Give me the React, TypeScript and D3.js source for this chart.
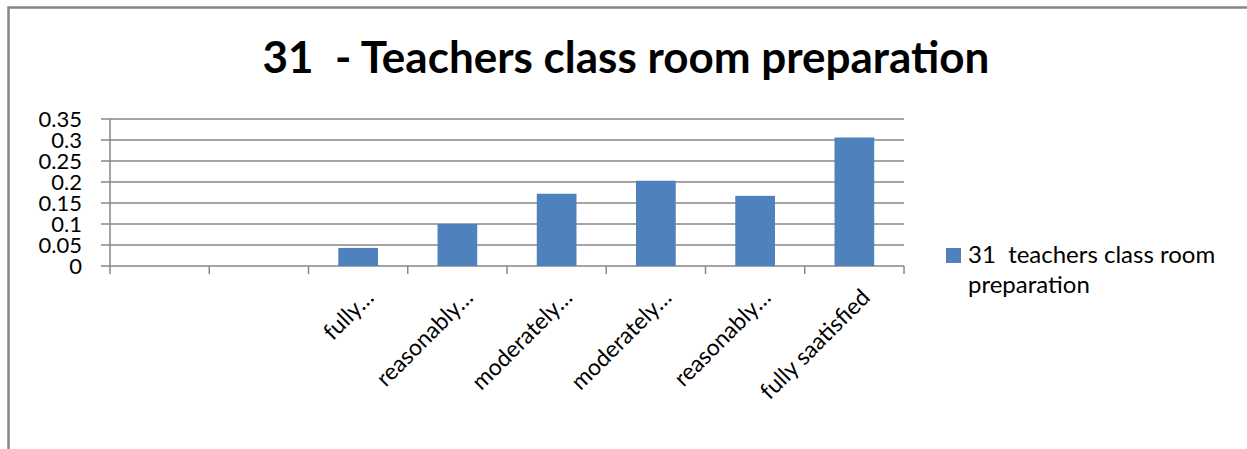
import { scaleBand, scaleLinear } from 'd3'

const categories = ['', '', 'fully…', 'reasonably…', 'moderately…', 'moderately…', 'reasonably…', 'fully saatisfied']
const values: (number | null)[] = [null, null, 0.043, 0.1, 0.172, 0.203, 0.167, 0.306]
const yTicks = [0, 0.05, 0.1, 0.15, 0.2, 0.25, 0.3, 0.35]
const tickLabels = ['0', '0.05', '0.1', '0.15', '0.2', '0.25', '0.3', '0.35']
const title = '31  - Teachers class room preparation'
const seriesName = ['31  teachers class room', 'preparation']

const width = 1247
const height = 449
const left = 110
const right = 904
const top = 119
const bottom = 266
const font = 'Lato, Calibri, sans-serif'
const gridColor = '#878787'
const barColor = '#4f81bd'

const x = scaleBand<number>()
  .domain(categories.map((_, i) => i))
  .range([left, right])
  .paddingInner(0)
  .paddingOuter(0)

const y = scaleLinear().domain([0, 0.35]).range([bottom, top])

function App() {
  const bw = x.bandwidth()
  const barW = bw / 2.5

  return (
    <svg width={width} height={height} style={{ position: 'absolute', left: 0, top: 0 }}>
      <rect width={width} height={height} fill="white" />
      {/* chart border */}
      <path d={`M8.5,${height} V7.5 H${width}`} fill="none" stroke={gridColor} strokeWidth={2.5} />

      <text
        x={626}
        y={73}
        textAnchor="middle"
        fontFamily={font}
        fontWeight="bold"
        fontSize={44}
        fill="#000"
        style={{ whiteSpace: 'pre' }}
      >
        {title}
      </text>

      {/* gridlines + y labels */}
      {yTicks.map((t, i) => (
        <g key={i}>
          <line x1={left - 9} x2={right} y1={y(t)} y2={y(t)} stroke={gridColor} strokeWidth={1.5} />
          <text x={82} y={y(t)} dy="0.36em" textAnchor="end" fontFamily={font} fontSize={22} fill="#000">
            {tickLabels[i]}
          </text>
        </g>
      ))}
      <line x1={left} x2={left} y1={top} y2={bottom} stroke={gridColor} strokeWidth={1.5} />

      {/* x ticks */}
      {categories.map((_, i) => (
        <line key={i} x1={x(i)!} x2={x(i)!} y1={bottom} y2={bottom + 8} stroke={gridColor} strokeWidth={1.5} />
      ))}
      <line x1={right} x2={right} y1={bottom} y2={bottom + 8} stroke={gridColor} strokeWidth={1.5} />

      {/* bars */}
      {values.map((v, i) =>
        v == null ? null : (
          <rect
            key={i}
            x={x(i)! + (bw - barW) / 2}
            y={y(v)}
            width={barW}
            height={bottom - y(v)}
            fill={barColor}
          />
        )
      )}

      {/* category labels */}
      {categories.map((c, i) => {
        const cx = x(i)! + bw / 2 + 17
        const cy = bottom + 33
        return (
          <text
            key={i}
            x={cx}
            y={cy}
            transform={`rotate(-45 ${cx} ${cy})`}
            textAnchor="end"
            fontFamily={font}
            fontSize={23}
            fill="#000"
          >
            {c}
          </text>
        )
      })}

      {/* legend */}
      <rect x={946} y={248} width={15} height={15} fill={barColor} />
      <text x={968} y={263} fontFamily={font} fontSize={24} fill="#000" style={{ whiteSpace: 'pre' }}>
        {seriesName[0]}
      </text>
      <text x={968} y={293} fontFamily={font} fontSize={24} fill="#000">
        {seriesName[1]}
      </text>
    </svg>
  )
}

export default App
